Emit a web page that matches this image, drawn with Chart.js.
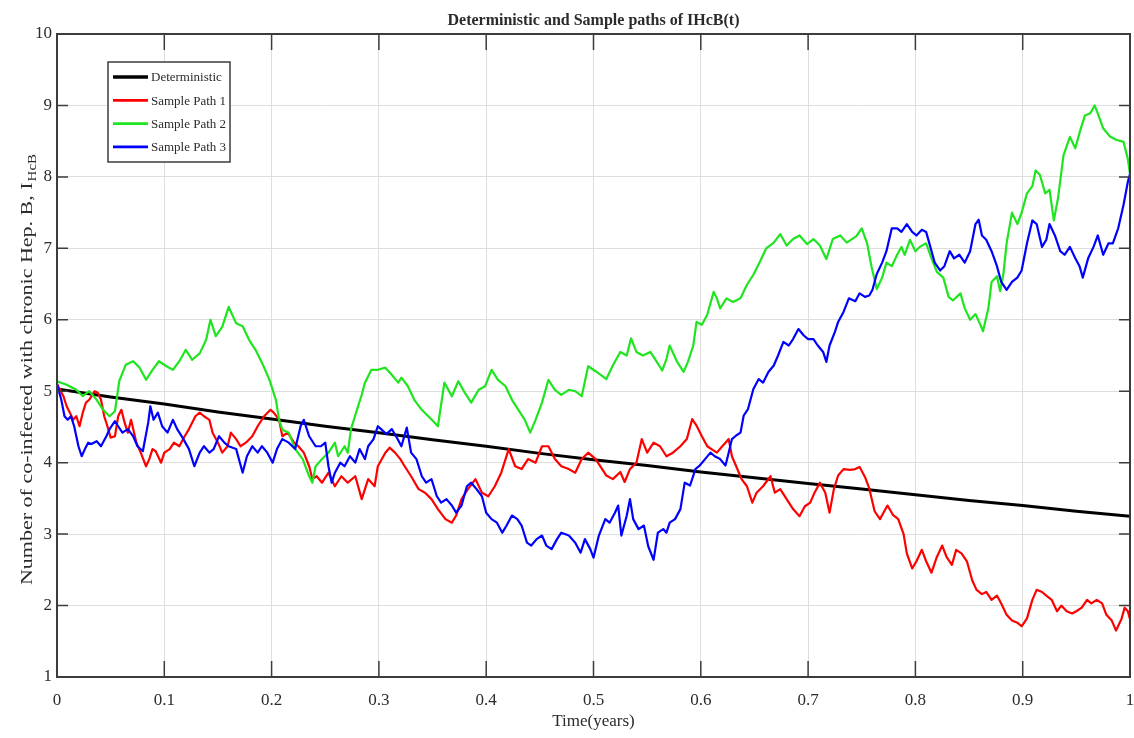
<!DOCTYPE html>
<html>
<head>
<meta charset="utf-8">
<title>Deterministic and Sample paths of IHcB(t)</title>
<script src="https://cdn.jsdelivr.net/npm/chart.js@4.4.1/dist/chart.umd.min.js"></script>
<style>
  html, body { margin: 0; padding: 0; background: #fff; }
  #wrap { position: relative; width: 1134px; height: 738px; }
</style>
</head>
<body>
<div id="wrap"><canvas id="ihcb-chart"></canvas></div>
<script>
// Axis ticks (time in years, number of co-infected)
const xTickLabels = ['0', '0.1', '0.2', '0.3', '0.4', '0.5', '0.6', '0.7', '0.8', '0.9', '1'];
const yTickLabels = ['1', '2', '3', '4', '5', '6', '7', '8', '9', '10'];

// Deterministic solution, [t, I_HcB]
const detPath = [
  [0, 5.03], [0.05, 4.92], [0.1, 4.82], [0.15, 4.71], [0.2, 4.61], [0.25, 4.51], [0.3, 4.42],
  [0.35, 4.32], [0.4, 4.23], [0.45, 4.13], [0.5, 4.04], [0.55, 3.96], [0.6, 3.87], [0.65, 3.79],
  [0.7, 3.71], [0.75, 3.63], [0.8, 3.55], [0.85, 3.47], [0.9, 3.40], [0.95, 3.32], [1, 3.25]
];

// Sample path 1 (red)
const path1 = [
  [0, 5.10], [0.006, 4.93], [0.009, 4.79], [0.012, 4.70], [0.015, 4.60], [0.018, 4.65], [0.021, 4.51], [0.024, 4.70], [0.027, 4.84], [0.030, 4.88],
  [0.035, 5.00], [0.038, 4.98], [0.041, 4.88], [0.044, 4.65], [0.047, 4.51], [0.050, 4.35], [0.054, 4.37], [0.057, 4.65], [0.060, 4.74], [0.063, 4.56],
  [0.066, 4.42], [0.069, 4.60], [0.074, 4.28], [0.078, 4.14], [0.083, 3.95], [0.086, 4.05], [0.089, 4.19], [0.092, 4.16], [0.097, 4.00], [0.100, 4.14],
  [0.105, 4.19], [0.109, 4.28], [0.114, 4.23], [0.119, 4.37], [0.123, 4.47], [0.129, 4.65], [0.133, 4.70], [0.137, 4.65], [0.142, 4.60], [0.145, 4.42],
  [0.150, 4.28], [0.154, 4.14], [0.159, 4.23], [0.162, 4.42], [0.167, 4.33], [0.171, 4.23], [0.176, 4.28], [0.182, 4.37], [0.187, 4.51], [0.193, 4.65],
  [0.199, 4.74], [0.202, 4.70], [0.207, 4.60], [0.210, 4.37], [0.215, 4.42], [0.221, 4.28], [0.225, 4.23], [0.230, 4.14], [0.235, 3.95], [0.238, 3.77],
  [0.242, 3.81], [0.247, 3.72], [0.253, 3.86], [0.259, 3.67], [0.265, 3.81], [0.271, 3.72], [0.278, 3.81], [0.284, 3.49], [0.290, 3.77], [0.296, 3.67],
  [0.299, 3.95], [0.306, 4.14], [0.310, 4.21], [0.315, 4.14], [0.320, 4.05], [0.324, 3.95], [0.330, 3.81], [0.337, 3.63], [0.343, 3.58], [0.349, 3.49],
  [0.355, 3.35], [0.362, 3.21], [0.368, 3.16], [0.372, 3.26], [0.377, 3.49], [0.383, 3.63], [0.390, 3.77], [0.396, 3.58], [0.402, 3.53], [0.408, 3.67],
  [0.414, 3.86], [0.421, 4.19], [0.427, 3.95], [0.433, 3.91], [0.439, 4.05], [0.446, 4.00], [0.452, 4.23], [0.458, 4.23], [0.464, 4.05], [0.470, 3.95],
  [0.477, 3.91], [0.483, 3.86], [0.489, 4.05], [0.495, 4.14], [0.502, 4.05], [0.512, 3.82], [0.518, 3.77], [0.525, 3.87], [0.529, 3.73], [0.534, 3.91],
  [0.540, 4.00], [0.545, 4.33], [0.550, 4.14], [0.556, 4.28], [0.562, 4.23], [0.568, 4.09], [0.574, 4.14], [0.581, 4.23], [0.587, 4.33], [0.592, 4.61],
  [0.596, 4.52], [0.601, 4.37], [0.606, 4.23], [0.610, 4.19], [0.615, 4.14], [0.620, 4.23], [0.623, 4.28], [0.626, 4.33], [0.629, 4.09], [0.633, 3.95],
  [0.638, 3.77], [0.643, 3.67], [0.648, 3.44], [0.652, 3.58], [0.658, 3.67], [0.665, 3.81], [0.669, 3.58], [0.674, 3.63], [0.680, 3.49], [0.686, 3.35],
  [0.692, 3.25], [0.697, 3.39], [0.702, 3.44], [0.706, 3.58], [0.711, 3.72], [0.716, 3.58], [0.720, 3.30], [0.724, 3.63], [0.728, 3.82], [0.733, 3.91],
  [0.739, 3.90], [0.744, 3.91], [0.748, 3.94], [0.753, 3.80], [0.757, 3.64], [0.762, 3.32], [0.767, 3.21], [0.771, 3.32], [0.774, 3.40], [0.779, 3.27],
  [0.784, 3.21], [0.789, 3.00], [0.792, 2.73], [0.797, 2.52], [0.801, 2.62], [0.806, 2.78], [0.810, 2.62], [0.815, 2.46], [0.820, 2.68], [0.825, 2.84],
  [0.829, 2.68], [0.834, 2.57], [0.838, 2.78], [0.843, 2.73], [0.848, 2.62], [0.853, 2.35], [0.857, 2.22], [0.862, 2.16], [0.866, 2.19], [0.871, 2.08],
  [0.876, 2.14], [0.880, 2.03], [0.885, 1.87], [0.890, 1.79], [0.895, 1.76], [0.899, 1.71], [0.904, 1.82], [0.909, 2.08], [0.913, 2.22], [0.918, 2.19],
  [0.922, 2.14], [0.927, 2.08], [0.932, 1.92], [0.936, 2.00], [0.941, 1.92], [0.946, 1.89], [0.950, 1.92], [0.955, 1.97], [0.960, 2.08], [0.964, 2.03],
  [0.969, 2.08], [0.974, 2.03], [0.978, 1.87], [0.983, 1.79], [0.987, 1.65], [0.992, 1.81], [0.995, 1.97], [0.998, 1.92], [1.000, 1.81]
];

// Sample path 2 (green)
const path2 = [
  [0, 5.14], [0.009, 5.09], [0.018, 5.02], [0.024, 4.93], [0.030, 5.00], [0.037, 4.88], [0.043, 4.74], [0.049, 4.65], [0.054, 4.72], [0.058, 5.14],
  [0.064, 5.37], [0.071, 5.42], [0.077, 5.33], [0.083, 5.16], [0.089, 5.30], [0.095, 5.42], [0.102, 5.35], [0.108, 5.30], [0.114, 5.42], [0.120, 5.58],
  [0.126, 5.44], [0.133, 5.53], [0.139, 5.72], [0.143, 6.00], [0.148, 5.77], [0.154, 5.90], [0.160, 6.18], [0.167, 5.95], [0.173, 5.91], [0.179, 5.72],
  [0.185, 5.58], [0.191, 5.40], [0.198, 5.16], [0.204, 4.88], [0.207, 4.60], [0.210, 4.46], [0.216, 4.42], [0.222, 4.19], [0.229, 4.05], [0.235, 3.81],
  [0.238, 3.72], [0.241, 3.95], [0.247, 4.05], [0.253, 4.14], [0.259, 4.28], [0.262, 4.09], [0.268, 4.23], [0.271, 4.14], [0.274, 4.47], [0.281, 4.81],
  [0.284, 4.95], [0.287, 5.12], [0.293, 5.30], [0.299, 5.30], [0.306, 5.33], [0.312, 5.23], [0.318, 5.12], [0.321, 5.19], [0.327, 5.07], [0.333, 4.88],
  [0.340, 4.74], [0.346, 4.65], [0.352, 4.56], [0.355, 4.51], [0.361, 5.12], [0.368, 4.93], [0.374, 5.14], [0.380, 4.98], [0.386, 4.84], [0.393, 5.02],
  [0.399, 5.07], [0.405, 5.30], [0.411, 5.16], [0.418, 5.07], [0.424, 4.88], [0.430, 4.74], [0.436, 4.60], [0.441, 4.42], [0.446, 4.60], [0.452, 4.84],
  [0.458, 5.16], [0.464, 5.02], [0.470, 4.95], [0.477, 5.02], [0.483, 5.00], [0.489, 4.93], [0.495, 5.35], [0.502, 5.28], [0.512, 5.17], [0.518, 5.36],
  [0.525, 5.55], [0.531, 5.50], [0.535, 5.74], [0.540, 5.55], [0.546, 5.50], [0.553, 5.55], [0.559, 5.41], [0.564, 5.29], [0.568, 5.45], [0.571, 5.64],
  [0.578, 5.41], [0.584, 5.27], [0.588, 5.41], [0.593, 5.64], [0.596, 5.97], [0.601, 5.93], [0.606, 6.07], [0.612, 6.39], [0.615, 6.30], [0.618, 6.16],
  [0.624, 6.30], [0.630, 6.25], [0.637, 6.30], [0.643, 6.49], [0.649, 6.63], [0.655, 6.81], [0.661, 7.00], [0.668, 7.08], [0.674, 7.20], [0.680, 7.04],
  [0.686, 7.13], [0.692, 7.18], [0.699, 7.06], [0.705, 7.13], [0.711, 7.04], [0.717, 6.85], [0.723, 7.13], [0.730, 7.18], [0.736, 7.08], [0.745, 7.17],
  [0.750, 7.28], [0.755, 7.07], [0.759, 6.75], [0.764, 6.43], [0.769, 6.59], [0.773, 6.80], [0.778, 6.75], [0.783, 6.91], [0.787, 7.02], [0.790, 6.91],
  [0.795, 7.12], [0.800, 6.96], [0.804, 7.02], [0.810, 7.07], [0.815, 6.86], [0.820, 6.67], [0.826, 6.59], [0.831, 6.32], [0.835, 6.27], [0.842, 6.37],
  [0.846, 6.16], [0.851, 6.00], [0.856, 6.08], [0.860, 5.95], [0.863, 5.84], [0.868, 6.16], [0.871, 6.53], [0.876, 6.61], [0.879, 6.40], [0.882, 6.64],
  [0.885, 7.07], [0.890, 7.50], [0.895, 7.34], [0.899, 7.50], [0.904, 7.77], [0.909, 7.87], [0.912, 8.09], [0.916, 8.03], [0.921, 7.77], [0.925, 7.82],
  [0.929, 7.39], [0.933, 7.71], [0.938, 8.30], [0.944, 8.56], [0.949, 8.40], [0.953, 8.62], [0.958, 8.86], [0.963, 8.89], [0.967, 9.00], [0.970, 8.89],
  [0.975, 8.68], [0.981, 8.57], [0.987, 8.52], [0.994, 8.49], [0.998, 8.25], [1.000, 8.04]
];

// Sample path 3 (blue)
const path3 = [
  [0, 5.10], [0.004, 4.88], [0.007, 4.65], [0.010, 4.60], [0.013, 4.65], [0.016, 4.51], [0.020, 4.23], [0.023, 4.09], [0.026, 4.19], [0.029, 4.28],
  [0.032, 4.26], [0.037, 4.30], [0.041, 4.23], [0.046, 4.37], [0.049, 4.47], [0.054, 4.58], [0.057, 4.51], [0.061, 4.42], [0.066, 4.47], [0.071, 4.37],
  [0.075, 4.23], [0.080, 4.16], [0.085, 4.56], [0.087, 4.79], [0.090, 4.60], [0.094, 4.70], [0.098, 4.51], [0.103, 4.42], [0.108, 4.60], [0.112, 4.47],
  [0.117, 4.35], [0.123, 4.19], [0.128, 3.95], [0.133, 4.14], [0.137, 4.23], [0.142, 4.14], [0.146, 4.19], [0.151, 4.37], [0.156, 4.28], [0.160, 4.23],
  [0.167, 4.19], [0.173, 3.86], [0.177, 4.09], [0.182, 4.23], [0.187, 4.14], [0.191, 4.23], [0.196, 4.14], [0.201, 4.00], [0.205, 4.19], [0.210, 4.33],
  [0.216, 4.28], [0.222, 4.19], [0.227, 4.51], [0.230, 4.60], [0.235, 4.37], [0.241, 4.23], [0.246, 4.23], [0.250, 4.28], [0.253, 3.95], [0.256, 3.72],
  [0.259, 3.86], [0.264, 4.00], [0.268, 3.95], [0.273, 4.09], [0.278, 4.00], [0.282, 4.19], [0.287, 4.05], [0.290, 4.23], [0.295, 4.33], [0.299, 4.51],
  [0.302, 4.47], [0.307, 4.40], [0.312, 4.47], [0.316, 4.37], [0.321, 4.23], [0.326, 4.49], [0.330, 4.14], [0.335, 4.05], [0.340, 3.81], [0.344, 3.72],
  [0.349, 3.77], [0.354, 3.53], [0.358, 3.44], [0.363, 3.49], [0.368, 3.40], [0.372, 3.30], [0.377, 3.40], [0.382, 3.67], [0.386, 3.72], [0.391, 3.63],
  [0.396, 3.53], [0.400, 3.30], [0.405, 3.21], [0.410, 3.16], [0.415, 3.02], [0.419, 3.12], [0.424, 3.26], [0.429, 3.21], [0.433, 3.12], [0.438, 2.88],
  [0.442, 2.84], [0.447, 2.93], [0.452, 2.98], [0.456, 2.84], [0.461, 2.79], [0.466, 2.93], [0.470, 3.02], [0.477, 2.98], [0.483, 2.88], [0.488, 2.74],
  [0.492, 2.93], [0.497, 2.79], [0.500, 2.67], [0.505, 2.98], [0.511, 3.21], [0.515, 3.16], [0.520, 3.30], [0.523, 3.40], [0.526, 2.98], [0.531, 3.26],
  [0.534, 3.49], [0.537, 3.21], [0.542, 3.07], [0.547, 3.12], [0.551, 2.83], [0.556, 2.64], [0.560, 3.02], [0.565, 3.07], [0.568, 3.02], [0.571, 3.16],
  [0.576, 3.21], [0.581, 3.35], [0.585, 3.72], [0.590, 3.68], [0.595, 3.91], [0.599, 3.96], [0.604, 4.05], [0.609, 4.14], [0.613, 4.09], [0.618, 4.05],
  [0.623, 3.96], [0.626, 4.14], [0.629, 4.33], [0.633, 4.38], [0.637, 4.42], [0.640, 4.66], [0.644, 4.75], [0.649, 5.03], [0.654, 5.17], [0.658, 5.12],
  [0.663, 5.27], [0.668, 5.36], [0.672, 5.50], [0.677, 5.69], [0.682, 5.64], [0.686, 5.73], [0.691, 5.87], [0.696, 5.78], [0.700, 5.73], [0.705, 5.73],
  [0.709, 5.64], [0.714, 5.55], [0.717, 5.41], [0.720, 5.64], [0.725, 5.83], [0.728, 5.97], [0.733, 6.11], [0.738, 6.30], [0.744, 6.26], [0.748, 6.37],
  [0.753, 6.32], [0.757, 6.34], [0.760, 6.42], [0.764, 6.64], [0.769, 6.80], [0.773, 6.96], [0.778, 7.28], [0.783, 7.28], [0.787, 7.23], [0.792, 7.34],
  [0.797, 7.23], [0.801, 7.18], [0.806, 7.26], [0.810, 7.23], [0.813, 7.07], [0.818, 6.80], [0.823, 6.69], [0.827, 6.75], [0.832, 6.96], [0.836, 6.86],
  [0.841, 6.91], [0.846, 6.80], [0.851, 6.96], [0.856, 7.34], [0.859, 7.40], [0.862, 7.18], [0.866, 7.12], [0.871, 6.96], [0.876, 6.75], [0.880, 6.53],
  [0.885, 6.42], [0.890, 6.53], [0.895, 6.59], [0.899, 6.69], [0.904, 7.07], [0.909, 7.39], [0.913, 7.34], [0.918, 7.02], [0.922, 7.12], [0.925, 7.34],
  [0.930, 7.18], [0.935, 6.96], [0.939, 6.91], [0.944, 7.02], [0.949, 6.86], [0.953, 6.75], [0.956, 6.59], [0.961, 6.86], [0.966, 7.02], [0.970, 7.18],
  [0.975, 6.91], [0.980, 7.07], [0.984, 7.07], [0.989, 7.28], [0.994, 7.61], [0.998, 7.93], [1.000, 8.04]
];

const toPoints = (arr) => arr.map(([t, v]) => ({ x: t, y: v }));

const FONT = '"Liberation Serif", "Times New Roman", serif';
const TEXT = '#2b2b2b';
const AXIS = '#3c3c3c';

// MATLAB style box with inward tick marks on all four sides
const frame = {
  id: 'frame',
  afterDatasetsDraw(chart) {
    const { ctx, chartArea: a, scales: { x, y } } = chart;
    ctx.save();
    ctx.strokeStyle = AXIS;
    ctx.lineWidth = 1.5;
    ctx.beginPath();
    x.ticks.forEach(t => {
      const px = x.getPixelForValue(t.value);
      ctx.moveTo(px, a.bottom); ctx.lineTo(px, a.bottom - 16);
      ctx.moveTo(px, a.top); ctx.lineTo(px, a.top + 16);
    });
    y.ticks.forEach(t => {
      const py = y.getPixelForValue(t.value);
      ctx.moveTo(a.left, py); ctx.lineTo(a.left + 11, py);
      ctx.moveTo(a.right, py); ctx.lineTo(a.right - 11, py);
    });
    ctx.stroke();
    ctx.lineWidth = 2;
    ctx.strokeRect(a.left, a.top, a.right - a.left, a.bottom - a.top);
    ctx.restore();
  }
};

// title over the axes, y label with subscript, boxed legend in the top-left
const annotations = {
  id: 'annotations',
  afterDraw(chart) {
    const { ctx, chartArea: a } = chart;
    ctx.save();
    ctx.fillStyle = TEXT;

    ctx.font = 'bold 16px ' + FONT;
    ctx.textAlign = 'center';
    ctx.textBaseline = 'middle';
    ctx.fillText('Deterministic and Sample paths of IHcB(t)', (a.left + a.right) / 2, 21);

    // y label, rotated, with I_HcB subscript
    const main = 'Number of co-infected with chronic Hep. B, I';
    const sub = 'HcB';
    ctx.font = '22px ' + FONT;
    const wMain = ctx.measureText(main).width;
    ctx.font = '15px ' + FONT;
    const wSub = ctx.measureText(sub).width;
    ctx.save();
    ctx.translate(32, 370);
    ctx.rotate(-Math.PI / 2);
    ctx.scale(1, 0.8);
    ctx.textAlign = 'left';
    ctx.textBaseline = 'alphabetic';
    const x0 = -(wMain + wSub) / 2;
    ctx.font = '22px ' + FONT;
    ctx.fillText(main, x0, 0);
    ctx.font = '15px ' + FONT;
    ctx.fillText(sub, x0 + wMain + 1, 5);
    ctx.restore();

    // legend
    const lx = a.left + 51, ly = a.top + 28, lw = 122, lh = 100;
    ctx.fillStyle = '#fff';
    ctx.fillRect(lx, ly, lw, lh);
    ctx.strokeStyle = AXIS;
    ctx.lineWidth = 1.5;
    ctx.strokeRect(lx, ly, lw, lh);
    ctx.font = '13px ' + FONT;
    ctx.textAlign = 'left';
    ctx.textBaseline = 'middle';
    chart.data.datasets.forEach((ds, i) => {
      const ry = ly + 15 + i * 23.3;
      ctx.strokeStyle = ds.borderColor;
      ctx.lineWidth = ds.borderWidth + 0.5;
      ctx.beginPath();
      ctx.moveTo(lx + 5, ry);
      ctx.lineTo(lx + 40, ry);
      ctx.stroke();
      ctx.fillStyle = TEXT;
      ctx.fillText(ds.label, lx + 43, ry + 1);
    });
    ctx.restore();
  }
};

const chart = new Chart(document.getElementById('ihcb-chart'), {
  type: 'line',
  data: {
    datasets: [
      { label: 'Deterministic', data: toPoints(detPath), borderColor: '#000000', borderWidth: 3, order: 4 },
      { label: 'Sample Path 1', data: toPoints(path1), borderColor: '#ff0000', borderWidth: 2.2, order: 3 },
      { label: 'Sample Path 2', data: toPoints(path2), borderColor: '#1fe51f', borderWidth: 2.2, order: 2 },
      { label: 'Sample Path 3', data: toPoints(path3), borderColor: '#0000ff', borderWidth: 2.2, order: 1 },
    ],
  },
  options: {
    responsive: true,
    maintainAspectRatio: false,
    animation: false,
    layout: { padding: { top: 34, right: 4, left: 0, bottom: 0 } },
    elements: {
      point: { radius: 0, hoverRadius: 0 },
      line: { tension: 0, borderJoinStyle: 'round', fill: false },
    },
    plugins: {
      legend: { display: false },
      title: { display: false },
      tooltip: { enabled: false },
    },
    scales: {
      x: {
        type: 'linear',
        min: 0,
        max: 1,
        afterFit: (s) => { s.height = 61; s.paddingLeft = 0; s.paddingRight = 0; },
        grid: { color: '#dedede', lineWidth: 1, drawTicks: false },
        border: { display: false },
        ticks: {
          stepSize: 0.1,
          padding: 13,
          color: TEXT,
          font: { family: FONT, size: 17 },
          maxRotation: 0,
          callback: (v, i) => xTickLabels[i],
        },
        title: {
          display: true,
          text: 'Time(years)',
          color: TEXT,
          font: { family: FONT, size: 17 },
          padding: { top: 0, bottom: 6 },
        },
      },
      y: {
        min: 1,
        max: 10,
        afterFit: (s) => { s.width = 57; s.paddingTop = 0; s.paddingBottom = 0; },
        grid: { color: '#dedede', lineWidth: 1, drawTicks: false },
        border: { display: false },
        ticks: {
          stepSize: 1,
          padding: 5,
          color: TEXT,
          font: { family: FONT, size: 17 },
          callback: (v, i) => yTickLabels[i],
        },
      },
    },
  },
  plugins: [frame, annotations],
});
</script>
</body>
</html>
